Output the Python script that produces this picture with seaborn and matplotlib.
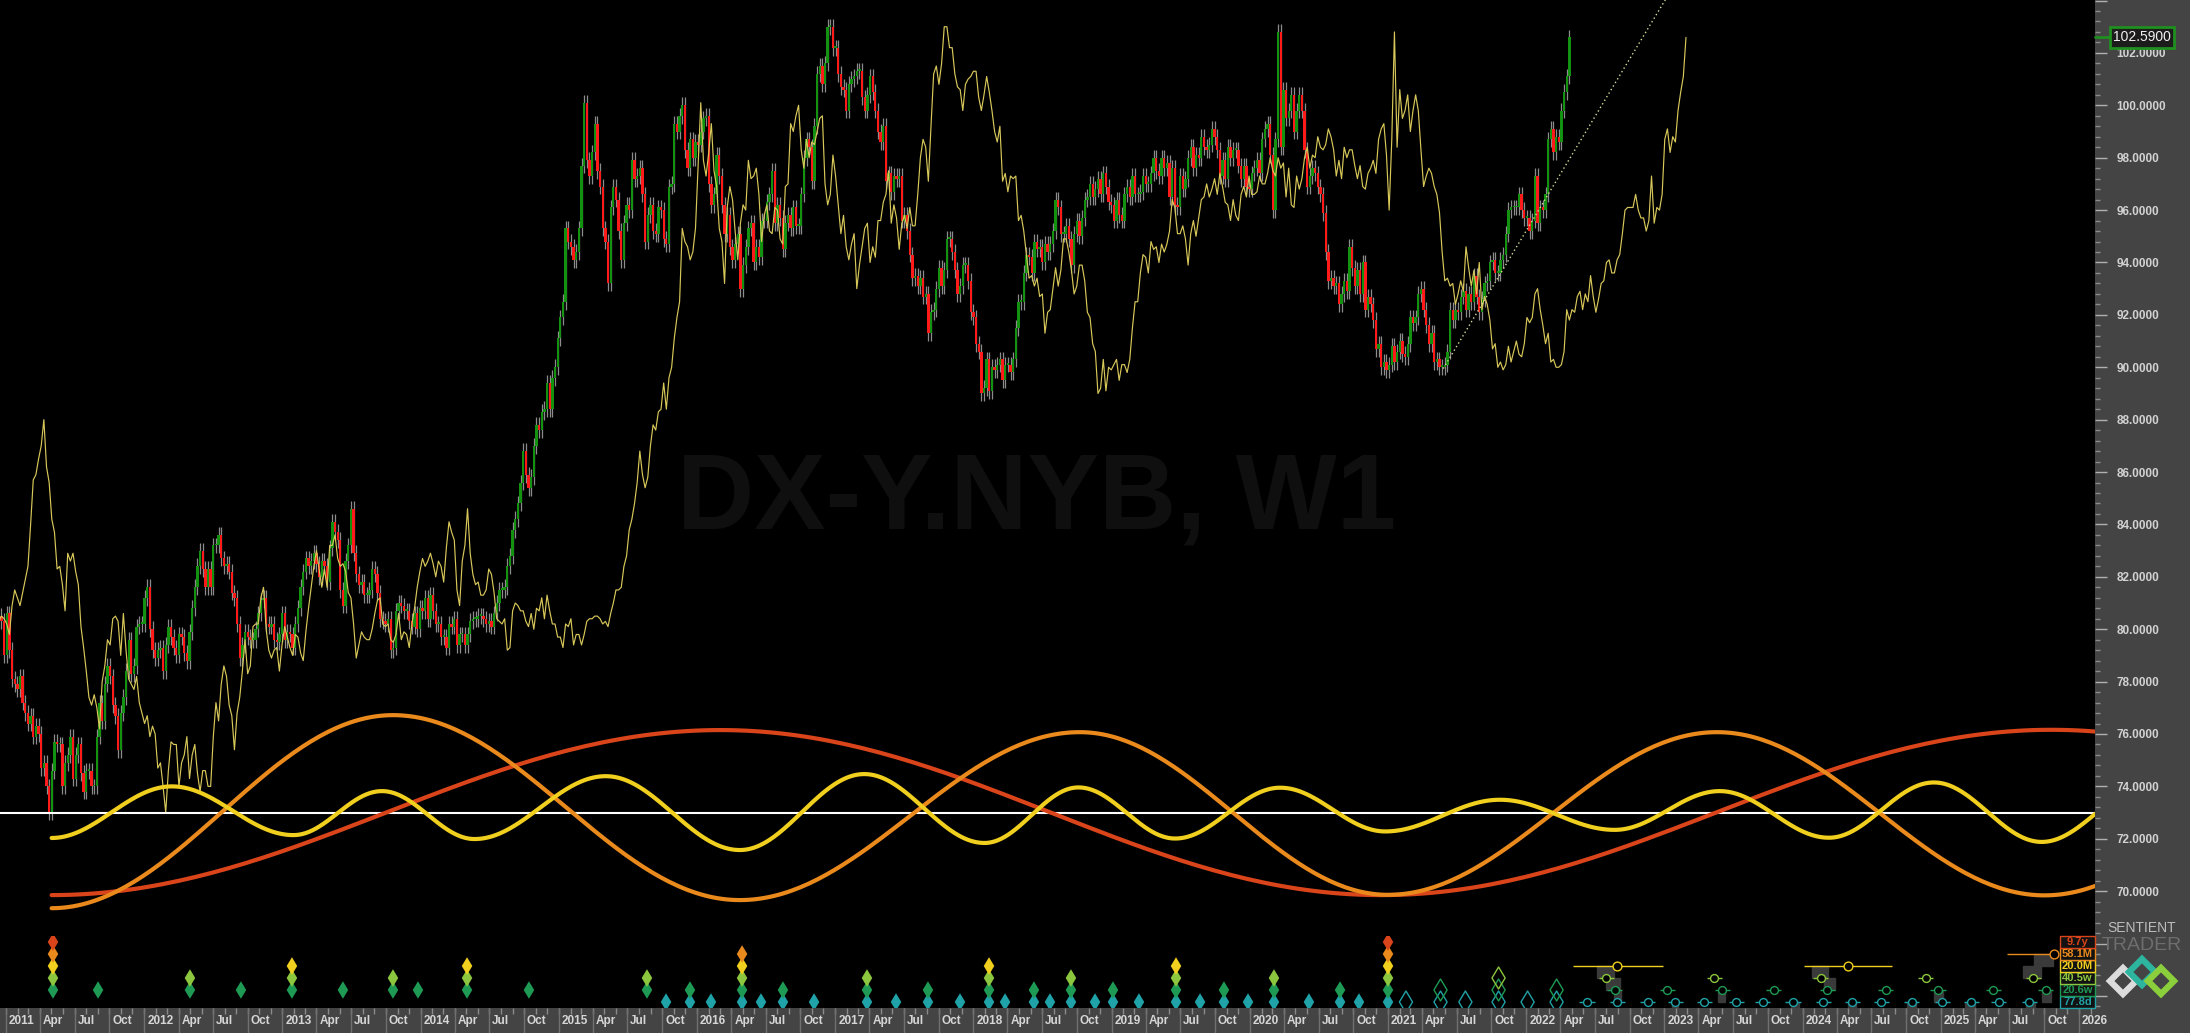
import numpy as np
import pandas as pd
import seaborn as sns
import matplotlib.pyplot as plt
from matplotlib.patches import Rectangle, Polygon
from matplotlib.transforms import blended_transform_factory
from matplotlib.ticker import MultipleLocator, FixedLocator, FuncFormatter


# Weekly closes of DX-Y.NYB, one list per calendar year (Friday closes)
close_2010 = [77.0, 76.9, 78.3, 79.4, 80.4, 80.3, 80.5, 80.4, 80.2, 79.8, 80.9, 81.5,
              81.2, 80.9, 81.4, 81.9, 82.4, 84.0, 85.7, 85.9, 86.5, 87.0, 88.0, 86.2,
              85.6, 84.2, 83.7, 82.3, 82.4, 81.7, 80.7, 82.9, 82.6, 82.9, 82.2, 81.7,
              80.1, 79.3, 78.4, 77.4, 77.1, 77.5, 77.0, 76.2, 78.0, 78.6, 79.6, 79.4,
              80.4, 80.5, 80.3, 79.0]
close_2011 = [80.6, 79.2, 78.1, 77.9, 77.7, 78.2, 77.2, 76.8, 76.4, 76.7, 75.9, 76.3,
              76.0, 74.7, 74.9, 74.0, 73.0, 74.6, 75.7, 75.6, 75.6, 74.0, 74.9, 75.2,
              75.9, 74.3, 75.2, 75.6, 74.5, 73.8, 74.6, 74.6, 74.0, 74.0, 75.9, 77.2,
              76.5, 77.9, 78.6, 78.2, 77.1, 76.7, 75.4, 76.8, 77.4, 78.4, 79.6, 78.3,
              78.6, 80.1, 80.2, 80.2]
close_2012 = [81.2, 81.6, 80.0, 79.2, 78.9, 79.2, 79.3, 78.4, 79.4, 80.1, 79.7, 79.3,
              79.0, 79.8, 79.7, 79.1, 78.8, 79.9, 80.8, 81.6, 82.4, 83.0, 82.3, 81.6,
              82.3, 81.6, 83.2, 83.2, 83.6, 82.7, 82.4, 82.5, 82.2, 81.4, 81.2, 80.2,
              78.9, 79.4, 79.9, 79.7, 79.6, 79.6, 80.0, 80.6, 81.1, 81.2, 80.2, 80.1,
              80.2, 79.6, 79.5, 79.8]
close_2013 = [80.6, 79.6, 79.9, 79.8, 79.3, 80.2, 80.8, 81.6, 82.2, 82.7, 82.4, 82.6,
              82.9, 82.5, 82.0, 82.6, 82.4, 81.8, 83.1, 84.1, 83.7, 83.4, 81.5, 80.9,
              82.6, 83.2, 84.6, 82.9, 82.1, 81.7, 81.8, 81.3, 81.3, 81.5, 82.3, 82.1,
              81.4, 80.4, 80.3, 80.2, 80.4, 79.2, 79.3, 80.7, 81.0, 80.9, 80.7, 80.7,
              80.3, 80.1, 80.6, 80.0]
close_2014 = [80.8, 80.7, 81.2, 80.4, 81.3, 80.7, 80.2, 80.2, 79.7, 79.7, 79.3, 80.2,
              80.1, 80.4, 79.4, 79.8, 79.8, 79.4, 79.8, 80.3, 80.4, 80.4, 80.5, 80.5,
              80.4, 80.2, 80.3, 80.1, 80.6, 81.0, 81.5, 81.5, 81.6, 82.4, 82.8, 83.8,
              84.2, 84.8, 85.6, 86.8, 85.9, 85.4, 85.8, 87.0, 87.8, 87.6, 88.3, 88.4,
              89.4, 88.4, 89.6, 90.0]
close_2015 = [91.1, 91.9, 92.5, 95.3, 94.8, 94.6, 94.1, 94.4, 95.3, 97.7, 100.1, 97.9,
              97.3, 98.2, 99.3, 97.5, 96.9, 95.3, 94.8, 93.2, 96.1, 96.9, 96.4, 95.2,
              94.1, 95.5, 96.2, 96.0, 97.9, 97.2, 97.3, 97.6, 96.6, 94.8, 95.8, 96.2,
              95.2, 95.1, 96.1, 96.0, 94.9, 94.7, 96.9, 97.0, 99.3, 99.0, 99.6, 100.0,
              98.3, 97.6, 98.7, 98.0]
close_2016 = [98.6, 98.5, 99.0, 99.5, 99.6, 97.0, 96.2, 96.6, 98.1, 97.3, 96.2, 95.1,
              95.8, 94.6, 94.1, 94.7, 95.1, 93.0, 93.9, 94.6, 95.3, 95.5, 94.0, 94.6,
              94.2, 95.6, 95.6, 96.3, 96.6, 97.5, 95.5, 96.2, 95.7, 94.5, 95.5, 95.8,
              95.3, 96.1, 95.4, 95.4, 96.6, 98.0, 98.7, 98.4, 97.1, 99.2, 101.2, 101.5,
              100.8, 101.6, 103.0, 103.0, 102.2]
close_2017 = [102.2, 101.2, 100.7, 100.6, 99.8, 100.8, 101.0, 101.1, 101.3, 101.3, 100.3,
              99.8, 100.4, 101.1, 100.5, 99.8, 99.0, 98.6, 99.2, 97.1, 97.4, 96.7, 97.3,
              97.2, 97.3, 95.6, 95.8, 95.2, 94.3, 93.4, 93.5, 93.1, 93.4, 92.7, 92.8,
              91.3, 92.1, 92.2, 93.0, 93.8, 93.1, 93.7, 94.9, 94.9, 94.4, 93.7, 92.8,
              93.1, 93.9, 93.9, 93.3, 92.1]
close_2018 = [91.9, 90.9, 90.6, 89.0, 89.2, 90.3, 89.1, 90.0, 89.9, 90.1, 90.3, 89.5,
              90.1, 90.1, 89.8, 90.3, 91.5, 92.5, 92.5, 93.6, 94.3, 94.2, 93.6, 94.8,
              94.5, 94.6, 94.0, 94.7, 94.4, 94.7, 95.2, 96.4, 96.1, 95.1, 95.1, 95.4,
              94.9, 93.9, 95.1, 95.6, 95.0, 95.7, 96.4, 96.5, 97.0, 96.5, 96.8, 97.2,
              96.6, 97.4, 96.9, 96.3]
close_2019 = [96.2, 95.6, 96.4, 95.8, 95.6, 96.6, 96.9, 96.5, 97.3, 96.6, 96.6, 96.7,
              97.3, 97.0, 97.0, 97.4, 98.0, 97.5, 97.3, 98.0, 97.6, 97.8, 96.5, 97.6,
              96.2, 96.1, 97.3, 96.8, 97.2, 98.0, 98.4, 97.6, 98.1, 98.0, 98.8, 98.4,
              98.3, 98.5, 99.1, 98.8, 98.3, 97.3, 97.9, 97.2, 98.4, 98.0, 98.3, 98.3,
              97.7, 97.2, 97.7, 96.9]
close_2020 = [96.8, 97.4, 97.6, 97.9, 97.4, 98.7, 99.1, 99.3, 98.1, 96.0, 98.7, 102.8,
              98.4, 100.6, 99.5, 99.8, 100.4, 99.0, 99.8, 100.4, 99.8, 98.3, 96.9, 97.3,
              97.6, 97.4, 96.9, 96.6, 95.9, 94.4, 93.3, 93.4, 93.1, 93.2, 92.4, 92.8,
              93.3, 92.9, 94.6, 93.8, 93.1, 93.7, 92.8, 94.0, 92.2, 92.7, 92.4, 91.8,
              90.7, 90.9, 90.0, 90.2]
close_2021 = [89.9, 90.1, 90.8, 90.2, 90.6, 91.0, 90.5, 90.4, 90.9, 91.9, 91.7, 91.9,
              92.8, 93.0, 92.2, 91.6, 90.9, 91.3, 90.2, 90.3, 90.0, 90.0, 90.1, 90.6,
              92.2, 91.8, 92.2, 92.1, 92.7, 92.9, 92.2, 92.8, 92.5, 93.5, 92.7, 92.1,
              92.6, 93.2, 93.3, 94.0, 94.1, 93.6, 93.6, 94.1, 94.3, 95.1, 96.0, 96.1,
              96.1, 96.1, 96.6, 96.0, 95.7]
close_2022 = [95.7, 95.2, 95.6, 97.3, 95.5, 96.1, 96.0, 96.6, 98.7, 99.1, 98.2, 98.8,
              98.6, 99.8, 100.5, 101.1, 102.59]

first_week = '2010-01-04'
lag_weeks = 44
last_price = 102.59
zero_line = 73.0

# Cycle turning points (decimal year, index value)
red_t = [2011.33, 2016.17, 2020.95, 2025.80, 2030.65]
red_v = [69.85, 76.15, 69.85, 76.16, 69.85]
orange_t = [2011.33, 2013.80, 2016.31, 2018.77, 2021.00, 2023.38, 2025.75, 2028.12]
orange_v = [69.35, 76.72, 69.66, 76.07, 69.86, 76.07, 69.84, 76.0]
yellow_t = [2011.33, 2012.20, 2013.08, 2013.72, 2014.39, 2015.34, 2016.31, 2017.21,
            2018.08, 2018.76, 2019.46, 2020.22, 2020.98, 2021.81, 2022.64, 2023.40,
            2024.19, 2024.95, 2025.73, 2026.50]
yellow_v = [72.03, 74.00, 72.14, 73.82, 71.99, 74.39, 71.57, 74.47, 71.84, 73.96,
            72.01, 73.95, 72.28, 73.49, 72.34, 73.82, 72.04, 74.15, 71.88, 74.0]

# Dotted trend line
trend_t = [2021.40, 2023.10]
trend_v = [89.95, 104.85]

# Confirmed trough markers: date, lowest row, highest row
low_t = [2011.340, 2011.666, 2012.331, 2012.700, 2013.069, 2013.438, 2013.800, 2013.981,
         2014.336, 2014.784, 2015.638, 2015.776, 2015.949, 2016.101, 2016.326, 2016.463,
         2016.622, 2016.847, 2017.230, 2017.440, 2017.671, 2017.903, 2018.113, 2018.229,
         2018.438, 2018.554, 2018.706, 2018.880, 2019.010, 2019.198, 2019.466, 2019.640,
         2019.813, 2019.987, 2020.175, 2020.428, 2020.653, 2020.790, 2021.000]
low_lo = [1, 1, 1, 1, 1, 1, 1, 1, 1, 1, 1, 0, 0, 0, 0, 0, 0, 0, 0, 0, 0, 0, 0, 0, 0, 0,
          0, 0, 0, 0, 0, 0, 0, 0, 0, 0, 0, 0, 0]
low_hi = [5, 1, 2, 1, 3, 1, 2, 1, 3, 1, 2, 0, 1, 0, 4, 0, 1, 0, 2, 0, 1, 0, 3, 0, 1, 0,
          2, 0, 1, 0, 3, 0, 1, 0, 2, 0, 1, 0, 5]
# Unconfirmed troughs
hollow_t = [2021.13, 2021.38, 2021.56, 2021.80, 2022.01, 2022.22]
hollow_hi = [0, 1, 0, 2, 0, 1]

# Projected troughs
proj_teal = [2022.44, 2022.66, 2022.88, 2023.08, 2023.29, 2023.52, 2023.71, 2023.93,
             2024.15, 2024.36, 2024.57, 2024.79, 2025.01, 2025.22, 2025.42, 2025.64]
proj_green = [2022.64, 2023.02, 2023.42, 2023.79, 2024.18, 2024.60, 2024.98, 2025.38,
              2025.76]
proj_lgreen = [2022.58, 2023.36, 2024.13, 2024.89, 2025.67]
proj_yellow = [2022.66, 2024.33]
proj_yellow_lo = [2022.34, 2024.01]
proj_yellow_hi = [2022.99, 2024.65]
proj_orange = [2025.82]
proj_orange_lo = [2025.48]

# Grey projection boxes: start, end, row
box_t0 = [2022.512, 2022.577, 2022.635, 2024.068, 2024.155, 2024.328, 2023.055, 2023.388,
          2023.916, 2024.755, 2024.951, 2025.175, 2025.617, 2025.595, 2025.674, 2025.732]
box_t1 = [2022.635, 2022.678, 2022.686, 2024.184, 2024.234, 2024.386, 2023.098, 2023.438,
          2023.973, 2024.820, 2025.016, 2025.247, 2025.682, 2025.725, 2025.812, 2025.797]
box_row = [3, 2, 1, 3, 2, 0, 0, 1, 0, 0, 1, 0, 0, 3, 4, 1]

row_labels = ['77.8d', '20.6w', '40.5w', '20.0M', '58.1M', '9.7y']
row_colors = ['#1fa3a8', '#1e9a55', '#8cc63e', '#f0cf1e', '#ea8a1c', '#d9441a']


def dec_year(d):
    d = pd.DatetimeIndex(d)
    days = np.where(d.is_leap_year, 366.0, 365.0)
    return np.asarray(d.year + (d.dayofyear - 1) / days)


# Half-cosine path through cycle turning points
def cycle_path(turn_t, turn_v, n=80):
    xs, ys = [], []
    for i in range(len(turn_t) - 1):
        s = np.linspace(0, 1, n)
        xs.append(turn_t[i] + s * (turn_t[i + 1] - turn_t[i]))
        ys.append(turn_v[i] + (turn_v[i + 1] - turn_v[i]) * (1 - np.cos(np.pi * s)) / 2)
    return np.concatenate(xs), np.concatenate(ys)


sns.set_theme(style='dark')
plt.rcParams['font.family'] = ['Liberation Sans', 'DejaVu Sans']

W, H = 2190, 1033
PLOT_R, PLOT_B = 2095, 1008
PX_YEAR = 138.2
x_lo = 2011 - 6 / PX_YEAR
x_hi = 2011 + (PLOT_R - 6) / PX_YEAR

fig = plt.figure(figsize=(W / 100, H / 100), dpi=100, facecolor='#444444')
ax = fig.add_axes([0, (H - PLOT_B) / H, PLOT_R / W, PLOT_B / H])
ax.set_facecolor('black')
for sp in ax.spines.values():
    sp.set_visible(False)
ax.set_xlim(x_lo, x_hi)
ax.set_ylim(65.54, 104.02)
ax.grid(False)

# Watermark
ax.text(0.495, 0.476, 'DX-Y.NYB, W1', transform=ax.transAxes, ha='center',
        va='baseline', fontsize=77, fontweight='bold', color='#0f0f0f', zorder=0)

# Candles
closes = (close_2010 + close_2011 + close_2012 + close_2013 + close_2014 + close_2015
          + close_2016 + close_2017 + close_2018 + close_2019 + close_2020 + close_2021
          + close_2022)
weeks = pd.date_range(first_week, periods=len(closes), freq='7D')
df = pd.DataFrame({'week': weeks, 'close': closes})
df['open'] = df['close'].shift(1).fillna(df['close'])
df['t'] = dec_year(df['week'])
top = np.maximum(df['open'], df['close'])
bot = np.minimum(df['open'], df['close'])
wick = 0.3
ax.vlines(df['t'], bot - wick, top + wick, color='#8c8c8c', lw=0.9, zorder=2)
body = np.maximum(top - bot, 0.07)
colors = np.where(df['close'] >= df['open'], '#13920f', '#ff1a1a')
ax.bar(df['t'], body, bottom=bot, width=0.0168, color=colors, linewidth=0, zorder=3)

# Lagged close line
lag_t = dec_year(df['week'] + pd.Timedelta(weeks=lag_weeks))
sns.lineplot(x=lag_t, y=df['close'].values, ax=ax, color='#d8c85a', lw=0.85,
             sort=False, estimator=None, zorder=4)

# Zero line and cycle curves
ax.axhline(zero_line, color='white', lw=1.5, zorder=4)
for tt, vv, col in [(red_t, red_v, '#d9441a'), (orange_t, orange_v, '#ea8a1c'),
                    (yellow_t, yellow_v, '#f0cf1e')]:
    cx, cy = cycle_path(tt, vv)
    sns.lineplot(x=cx, y=cy, ax=ax, color=col, lw=3, sort=False, estimator=None,
                 zorder=5)

# Trend line
ax.plot(trend_t, trend_v, color='#d4dc9a', lw=1, linestyle=(0, (1, 2)), zorder=6)

# Right price axis
ax.yaxis.tick_right()
ax.yaxis.set_major_locator(FixedLocator(np.arange(66, 104.1, 2)))
ax.yaxis.set_minor_locator(MultipleLocator(0.4))
ax.yaxis.set_major_formatter(FuncFormatter(
    lambda v, p: f'{v:.4f}' if 69 < v < 103 else ''))
ax.tick_params(axis='y', which='major', right=True, left=False, length=8.6, width=1,
               color='#b0b0b0', pad=7, labelsize=8.5, labelcolor='#d2d2d2')
ax.tick_params(axis='y', which='minor', right=True, left=False, length=3.6, width=1,
               color='#8c8c8c')
plt.setp(ax.get_yticklabels(), fontweight='bold')
ax.set_xticks([])

# Last price box
bt = blended_transform_factory(ax.transAxes, ax.transData)
ax.plot([1.0, 1.0 + 17 / PLOT_R], [last_price, last_price], transform=bt,
        color='#1f8f1f', lw=2, clip_on=False, zorder=10)
ax.text(1.0 + 18 / PLOT_R, last_price, f'{last_price:.4f}', transform=bt, ha='left',
        va='center', fontsize=10, color='#f0f0f0', clip_on=False, zorder=11,
        bbox=dict(boxstyle='square,pad=0.25', fc='#1c1c1c', ec='#1f8f1f', lw=2))

# Date axis bar
xt = ax.get_xaxis_transform()
quarters = pd.date_range('2011-01-01', '2026-01-01', freq='QS')
months = pd.date_range('2011-01-01', '2026-02-01', freq='MS')
ax.vlines(dec_year(months), -0.006, 0, transform=xt, color='#8a8a8a', lw=1,
          clip_on=False)
ax.vlines(dec_year(quarters), -0.0248, 0, transform=xt, color='#707070', lw=1,
          clip_on=False)
for q, qt in zip(quarters, dec_year(quarters)):
    lab = str(q.year) if q.month == 1 else q.strftime('%b')
    ax.text(qt + 3 / PX_YEAR, -0.0125, lab, transform=xt, ha='left', va='center',
            fontsize=8.5, fontweight='bold', color='#d6d6d6', clip_on=False)

# Cycle marker panel
ax_m = fig.add_axes([0, (H - PLOT_B) / H, PLOT_R / W, 72 / H])
ax_m.set_xlim(x_lo, x_hi)
ax_m.set_ylim(0, 72)
ax_m.axis('off')
ax_m.patch.set_alpha(0)
row_y = [6 + 12 * i for i in range(6)]

for t0, t1, r in zip(box_t0, box_t1, box_row):
    ax_m.add_patch(Rectangle((t0, row_y[r] - 12), t1 - t0, 12, color='#3a3a3a',
                             zorder=1))

pts = pd.DataFrame([(t, row_y[r], r) for t, lo, hi in zip(low_t, low_lo, low_hi)
                    for r in range(lo, hi + 1)], columns=['t', 'y', 'row'])
sns.scatterplot(data=pts, x='t', y='y', hue='row', palette=dict(enumerate(row_colors)),
                marker='d', s=80, linewidth=0, legend=False, ax=ax_m, zorder=3)
for t, hi in zip(hollow_t, hollow_hi):
    for r in range(0, hi + 1):
        ax_m.scatter([t], [row_y[r]], marker='d', s=125, facecolors='none',
                     edgecolors=row_colors[r], linewidths=1, zorder=3)

for r, lst in [(0, proj_teal), (1, proj_green), (2, proj_lgreen)]:
    for t in lst:
        ax_m.hlines(row_y[r], t - 0.055, t + 0.055, color=row_colors[r], lw=1, zorder=2)
    ax_m.scatter(lst, [row_y[r]] * len(lst), marker='o', s=32, facecolors='black',
                 edgecolors=row_colors[r], linewidths=1, zorder=3)
ax_m.hlines([row_y[3]] * len(proj_yellow), proj_yellow_lo, proj_yellow_hi,
            color=row_colors[3], lw=1, zorder=2)
ax_m.scatter(proj_yellow, [row_y[3]] * len(proj_yellow), marker='o', s=40,
             facecolors='black', edgecolors=row_colors[3], linewidths=1, zorder=3)
ax_m.hlines([row_y[4]] * len(proj_orange), proj_orange_lo, proj_orange,
            color=row_colors[4], lw=1, zorder=2)
ax_m.scatter(proj_orange, [row_y[4]] * len(proj_orange), marker='o', s=40,
             facecolors='black', edgecolors=row_colors[4], linewidths=1, zorder=3)

mt = blended_transform_factory(ax_m.transAxes, ax_m.transData)
for r in range(6):
    ax_m.add_patch(Rectangle((2060 / PLOT_R, row_y[r] - 6), 35 / PLOT_R, 12,
                             transform=mt, fc='#121212', ec=row_colors[r], lw=1,
                             zorder=6, clip_on=False))
    ax_m.text(2077.5 / PLOT_R, row_y[r], row_labels[r], transform=mt, ha='center',
              va='center', fontsize=8, fontweight='bold', color=row_colors[r], zorder=7)

# Logo in the right panel (pixel space)
ax_l = fig.add_axes([2096 / W, 0, 94 / W, 1])
ax_l.set_xlim(2096, 2190)
ax_l.set_ylim(H, 0)
ax_l.axis('off')
ax_l.patch.set_alpha(0)
ax_l.text(2142, 928, 'SENTIENT', ha='center', va='center', fontsize=10,
          color='#bdbdbd')
ax_l.text(2142, 946, 'TRADER', ha='center', va='center', fontsize=14,
          color='#6e6e6e')
for cx, cy, col in [(2123, 981, '#dcdcdc'), (2142, 972, '#2db5a0'),
                    (2161, 981, '#8ccf3c')]:
    d = 13
    ax_l.add_patch(Polygon([(cx - d, cy), (cx, cy - d), (cx + d, cy), (cx, cy + d)],
                           closed=True, fill=False, ec=col, lw=4.5))

fig.savefig('out.png', dpi=100, facecolor=fig.get_facecolor())
